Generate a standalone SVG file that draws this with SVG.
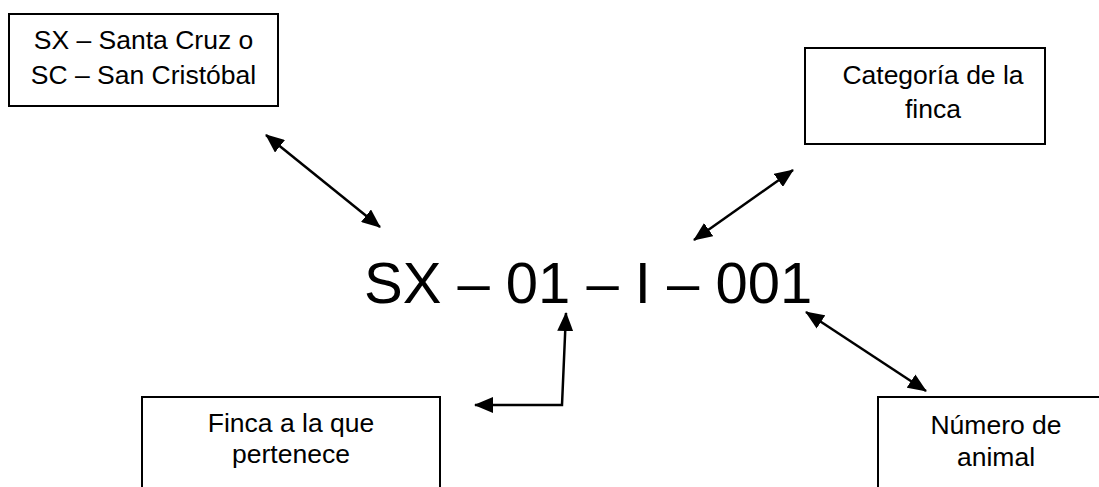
<svg xmlns="http://www.w3.org/2000/svg" width="1099" height="487" viewBox="0 0 1099 487">
<style>
.box{fill:#fff;stroke:#000;stroke-width:2}
.t{font-family:"Liberation Sans",Arial,sans-serif;font-size:26.5px;fill:#000;text-anchor:middle}
.big{font-family:"Liberation Sans",Arial,sans-serif;font-size:58px;fill:#000}
.c{fill:none;stroke:#000;stroke-width:2.5}
</style>
<defs>
<marker id="ah" markerUnits="userSpaceOnUse" markerWidth="20" markerHeight="16" refX="18" refY="8" orient="auto-start-reverse" viewBox="0 0 20 16">
<path d="M0,0 L19,8 L0,16 z" fill="#000"/>
</marker>
</defs>
<rect width="1099" height="487" fill="#fff"/>
<g id="n1">
<rect class="box" x="9" y="14" width="269" height="92"/>
<text class="t" x="143.5" y="49">SX – Santa Cruz o</text>
<text class="t" x="143.5" y="84">SC – San Cristóbal</text>
</g>
<g id="n2">
<rect class="box" x="805" y="48" width="240" height="96"/>
<text class="t" x="933" y="84">Categoría de la</text>
<text class="t" x="933" y="118">finca</text>
</g>
<g id="n3">
<rect class="box" x="142" y="397" width="298" height="100"/>
<text class="t" x="291" y="432">Finca a la que</text>
<text class="t" x="291" y="463">pertenece</text>
</g>
<g id="n4">
<rect class="box" x="878" y="397" width="240" height="100"/>
<text class="t" x="996" y="434">Número de</text>
<text class="t" x="996" y="466">animal</text>
</g>
<g id="code">
<text class="big" x="364" y="303">SX – 01 – I – 001</text>
</g>
<g id="connectors">
<line class="c" x1="266" y1="135" x2="380" y2="227" marker-start="url(#ah)" marker-end="url(#ah)"/>
<line class="c" x1="793" y1="170" x2="694" y2="240" marker-start="url(#ah)" marker-end="url(#ah)"/>
<path class="c" d="M475,405 L562,405 L566,313" marker-start="url(#ah)" marker-end="url(#ah)"/>
<line class="c" x1="806" y1="312" x2="926" y2="391" marker-start="url(#ah)" marker-end="url(#ah)"/>
</g>
</svg>
